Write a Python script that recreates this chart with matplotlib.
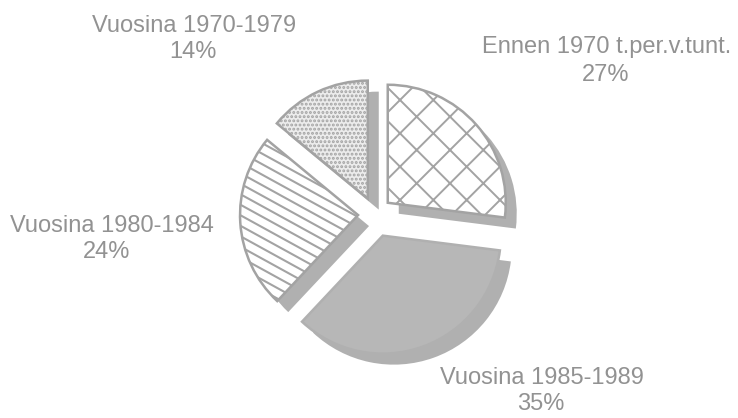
import numpy as np
import matplotlib
matplotlib.use("Agg")
import matplotlib.pyplot as plt

W, H = 738, 418

# ---- data ----
categories = ["Ennen 1970 t.per.v.tunt.", "Vuosina 1985-1989",
              "Vuosina 1980-1984", "Vuosina 1970-1979"]
shares = [27, 35, 24, 14]
pct_labels = [f"{v}%" for v in shares]

# ---- style / layout ----
explode = [17, 23, 17, 17]
center_img = (375, 214)
radius = 118
shadow_off = (11, -11)
edge_col = "#a3a3a3"
shadow_col = "#b0b0b0"
text_col = "#929292"
face_cols = ["white", "#b7b7b7", "white", "#ececec"]
edge_cols = [edge_col, "#b0b0b0", edge_col, edge_col]
hatches = ["x", None, None, "...."]

plt.rcParams["hatch.linewidth"] = 1.4
plt.rcParams["hatch.color"] = edge_col

fig = plt.figure(figsize=(W / 100, H / 100), dpi=100)
ax = fig.add_axes([0, 0, 1, 1])

cx, cy = center_img[0], H - center_img[1]

# shadow pie
sh_wedges, _ = ax.pie(shares, startangle=90, counterclock=False,
                      center=(cx + shadow_off[0], cy + shadow_off[1]),
                      radius=radius, explode=explode,
                      colors=[shadow_col] * len(shares),
                      wedgeprops=dict(linewidth=0, zorder=1))

# main pie
wedges, _ = ax.pie(shares, startangle=90, counterclock=False,
                   center=(cx, cy), radius=radius, explode=explode,
                   colors=face_cols,
                   wedgeprops=dict(linewidth=1.8, zorder=2))
for w, h, ec in zip(wedges, hatches, edge_cols):
    w.set_edgecolor(ec)
    if h:
        w.set_hatch(h)

# striped fill for the 1980-1984 wedge (sloped lines clipped to the wedge)
sw = wedges[2]
xs = np.array([0, W])
for b in np.arange(-400, 800, 10.5):
    ln, = ax.plot(xs, b - 0.55 * xs, color=edge_col, lw=1.5, zorder=3)
    ln.set_clip_path(sw)

ax.set_xlim(0, W)
ax.set_ylim(0, H)
ax.set_aspect("auto")
ax.axis("off")

# ---- labels (image coords: x center, baseline y) ----
label_pos = {
    "Ennen 1970 t.per.v.tunt.": ((607, 53), (606, 81)),
    "Vuosina 1985-1989": ((542, 384), (541, 410)),
    "Vuosina 1980-1984": ((112, 232), (107, 258)),
    "Vuosina 1970-1979": ((194, 32), (193, 58)),
}
for cat, pct in zip(categories, pct_labels):
    (x1, y1), (x2, y2) = label_pos[cat]
    ax.text(x1, H - y1, cat, ha="center", va="baseline", fontsize=17,
            color=text_col, family=["Liberation Sans", "DejaVu Sans"])
    ax.text(x2, H - y2, pct, ha="center", va="baseline", fontsize=17,
            color=text_col, family=["Liberation Sans", "DejaVu Sans"])

fig.savefig("out.png", dpi=100, facecolor="white")
